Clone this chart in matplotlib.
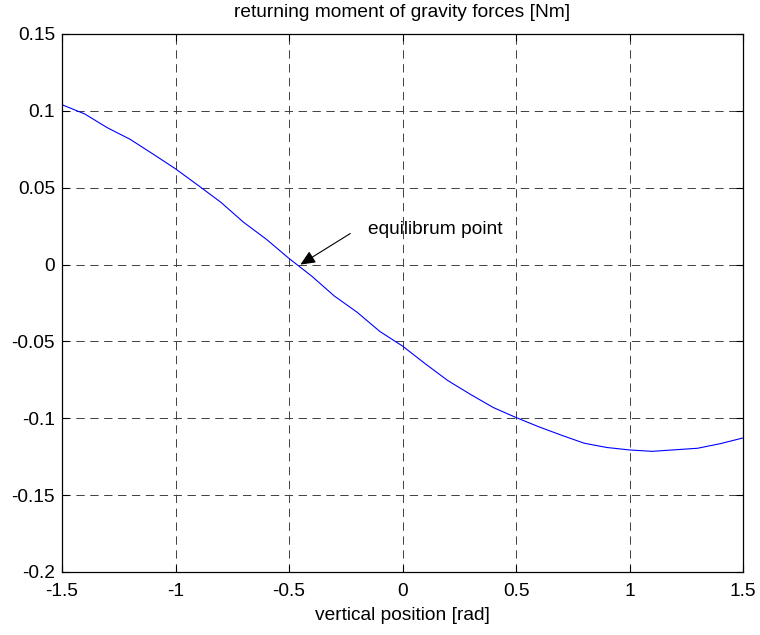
import matplotlib
matplotlib.use("Agg")
import matplotlib.pyplot as plt

plt.rcParams['font.family'] = ['Liberation Sans', 'DejaVu Sans']
plt.rcParams['lines.scale_dashes'] = False

x_pos = [-1.5, -1.4, -1.3, -1.2, -1.1, -1.0, -0.9, -0.8, -0.7, -0.6, -0.5,
         -0.4, -0.3, -0.2, -0.1, 0.0, 0.1, 0.2, 0.3, 0.4, 0.5,
         0.6, 0.7, 0.8, 0.9, 1.0, 1.1, 1.2, 1.3, 1.4, 1.5]
moment = [0.104, 0.098, 0.089, 0.0815, 0.072, 0.0623, 0.0515, 0.0405, 0.0275, 0.0165, 0.004,
          -0.0075, -0.0205, -0.031, -0.0435, -0.053, -0.0645, -0.0755, -0.0845, -0.093, -0.0995,
          -0.1055, -0.111, -0.1162, -0.119, -0.1206, -0.1215, -0.1205, -0.1195, -0.1165, -0.1128]
x_ticks = [-1.5, -1, -0.5, 0, 0.5, 1, 1.5]
x_tick_labels = ['-1.5', '-1', '-0.5', '0', '0.5', '1', '1.5']
y_ticks = [-0.2, -0.15, -0.1, -0.05, 0, 0.05, 0.1, 0.15]
y_tick_labels = ['-0.2', '-0.15', '-0.1', '-0.05', '0', '0.05', '0.1', '0.15']
title = 'returning moment of gravity forces [Nm]'
xlabel = 'vertical position [rad]'
annot_text = 'equilibrum point'
annot_point = (-0.45, 0.0)
annot_tail = (-0.23, 0.0202)
annot_text_pos = (-0.15, 0.023)

FS = 13.8

fig = plt.figure(figsize=(7.6, 6.35), dpi=100)
ax = fig.add_axes([62/760, 1-572/635, (743-62)/760, (572-34)/635])

ax.plot(x_pos, moment, color=(0, 0, 1), lw=0.8)
ax.set_xlim(-1.5, 1.5)
ax.set_ylim(-0.2, 0.15)
ax.set_xticks(x_ticks)
ax.set_xticklabels(x_tick_labels)
ax.set_yticks(y_ticks)
ax.set_yticklabels(y_tick_labels)
ax.tick_params(direction='in', length=5, width=0.8, labelsize=FS,
               top=True, right=True, colors='black')
ax.tick_params(axis='x', pad=8)
ax.tick_params(axis='y', pad=5)
ax.grid(True, color='0.25', linestyle=(0, (6, 4)), linewidth=0.7)
for s in ax.spines.values():
    s.set_linewidth(0.9)
    s.set_color('black')

ax.set_title(title, fontsize=FS, pad=12)
ax.set_xlabel(xlabel, fontsize=FS, labelpad=5)

ax.annotate('', xy=annot_point, xytext=annot_tail,
            arrowprops=dict(arrowstyle='-|>,head_length=0.9,head_width=0.4',
                            color='black', lw=0.8, shrinkA=0, shrinkB=0))
ax.text(annot_text_pos[0], annot_text_pos[1], annot_text, fontsize=FS,
        ha='left', va='center')

fig.savefig('out.png', dpi=100)
